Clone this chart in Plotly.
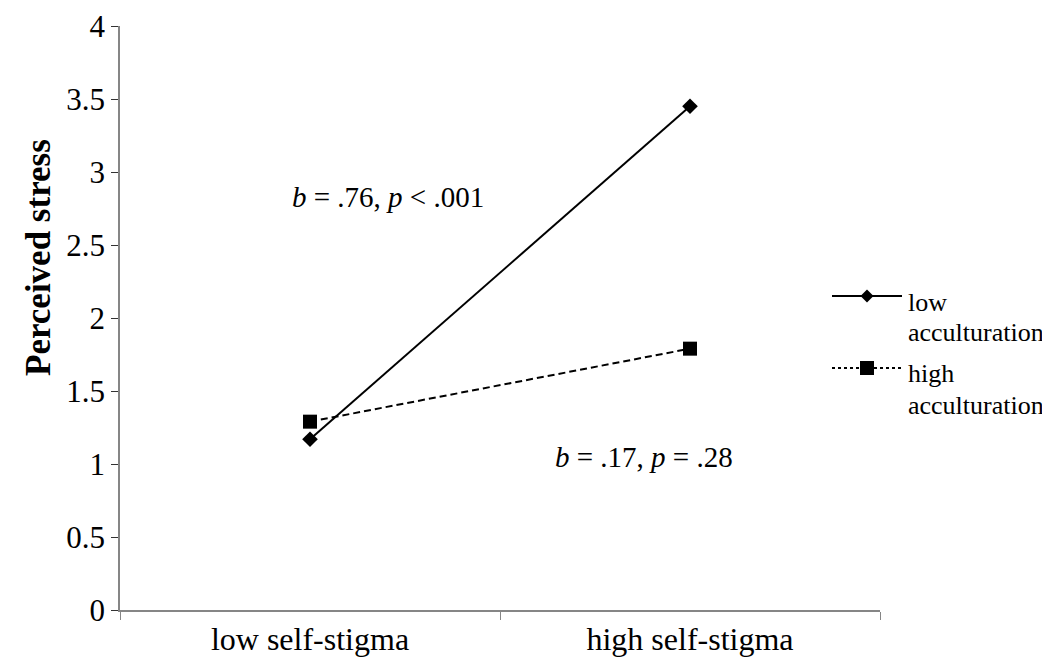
import plotly.graph_objects as go

categories = ["low self-stigma", "high self-stigma"]
low_accult = [1.17, 3.45]
high_accult = [1.29, 1.79]
series_names = ["low acculturation", "high acculturation"]
y_ticks = [0, 0.5, 1, 1.5, 2, 2.5, 3, 3.5, 4]
y_ticklabels = ["0", "0.5", "1", "1.5", "2", "2.5", "3", "3.5", "4"]

FONT = "Liberation Serif, Times New Roman, serif"
DASH = "7px,4px"

# page pixel -> paper coordinate helpers (plot area: x 120..880, y 26..610 in page)
def px(x):
    return (x - 120) / 760.0

def py(y):
    return (610 - y) / 584.0

fig = go.Figure()
fig.add_trace(go.Scatter(
    x=categories, y=low_accult, name=series_names[0], mode="lines+markers",
    line=dict(color="black", width=2, dash="solid"),
    marker=dict(symbol="diamond", size=12, color="black"),
    showlegend=False,
))
fig.add_trace(go.Scatter(
    x=categories, y=high_accult, name=series_names[1], mode="lines+markers",
    line=dict(color="black", width=2, dash=DASH),
    marker=dict(symbol="square", size=14, color="black"),
    showlegend=False,
))

fig.add_annotation(x=0.205, y=2.83, xref="x", yref="y",
                   text="<i>b</i> = .76, <i>p</i> < .001", showarrow=False,
                   font=dict(family=FONT, size=29, color="black"))
fig.add_annotation(x=0.88, y=1.05, xref="x", yref="y",
                   text="<i>b</i> = .17, <i>p</i> = .28", showarrow=False,
                   font=dict(family=FONT, size=29, color="black"))

# y-axis title
fig.add_annotation(x=px(38), y=py(258), xref="paper", yref="paper",
                   xanchor="center", yanchor="middle",
                   text="<b>Perceived stress</b>", textangle=-90, showarrow=False,
                   font=dict(family=FONT, size=35, color="black"))

# manual legend (long sample lines as in the reference)
legend_rows = [
    dict(y=296, dash="solid", shape="diamond", words=series_names[0].split(" ")),
    dict(y=368, dash="3px,3px", shape="square", words=series_names[1].split(" ")),
]
for row in legend_rows:
    fig.add_shape(type="line", xref="paper", yref="paper",
                  x0=px(832), x1=px(902), y0=py(row["y"]), y1=py(row["y"]),
                  line=dict(color="black", width=2, dash=row["dash"]))
    if row["shape"] == "diamond":
        path = "M 0 -6.5 L 6.5 0 L 0 6.5 L -6.5 0 Z"
    else:
        path = "M -7 -7 L 7 -7 L 7 7 L -7 7 Z"
    fig.add_shape(type="path", xref="paper", yref="paper",
                  xsizemode="pixel", ysizemode="pixel",
                  xanchor=px(867), yanchor=py(row["y"]),
                  path=path, fillcolor="black", line=dict(color="black", width=0))
    fig.add_annotation(x=px(906), y=py(row["y"] + 6), xref="paper", yref="paper",
                       xanchor="left", yanchor="middle", text=row["words"][0],
                       showarrow=False, font=dict(family=FONT, size=26, color="black"))
    fig.add_annotation(x=px(906), y=py(row["y"] + 37), xref="paper", yref="paper",
                       xanchor="left", yanchor="middle", text=row["words"][1],
                       showarrow=False, font=dict(family=FONT, size=26, color="black"))

fig.update_layout(
    width=1042, height=658,
    margin=dict(l=112, r=170, t=18, b=56),
    paper_bgcolor="white", plot_bgcolor="white",
    font=dict(family=FONT, size=32, color="black"),
    showlegend=False,
    xaxis=dict(
        type="category", range=[-0.5, 1.5],
        showline=True, linecolor="#868686", linewidth=1.5,
        ticks="outside", tickson="boundaries", ticklen=8, tickcolor="#868686",
        showgrid=False, zeroline=False, automargin=False,
        tickfont=dict(family=FONT, size=32, color="black"),
    ),
    yaxis=dict(
        range=[0, 4], tickvals=y_ticks, ticktext=y_ticklabels,
        showline=True, linecolor="#868686", linewidth=1.5,
        ticks="outside", ticklen=7, tickcolor="#333333",
        showgrid=False, zeroline=False, automargin=False,
        tickfont=dict(family=FONT, size=31, color="black"),
    ),
)

fig.write_html("out.html")
